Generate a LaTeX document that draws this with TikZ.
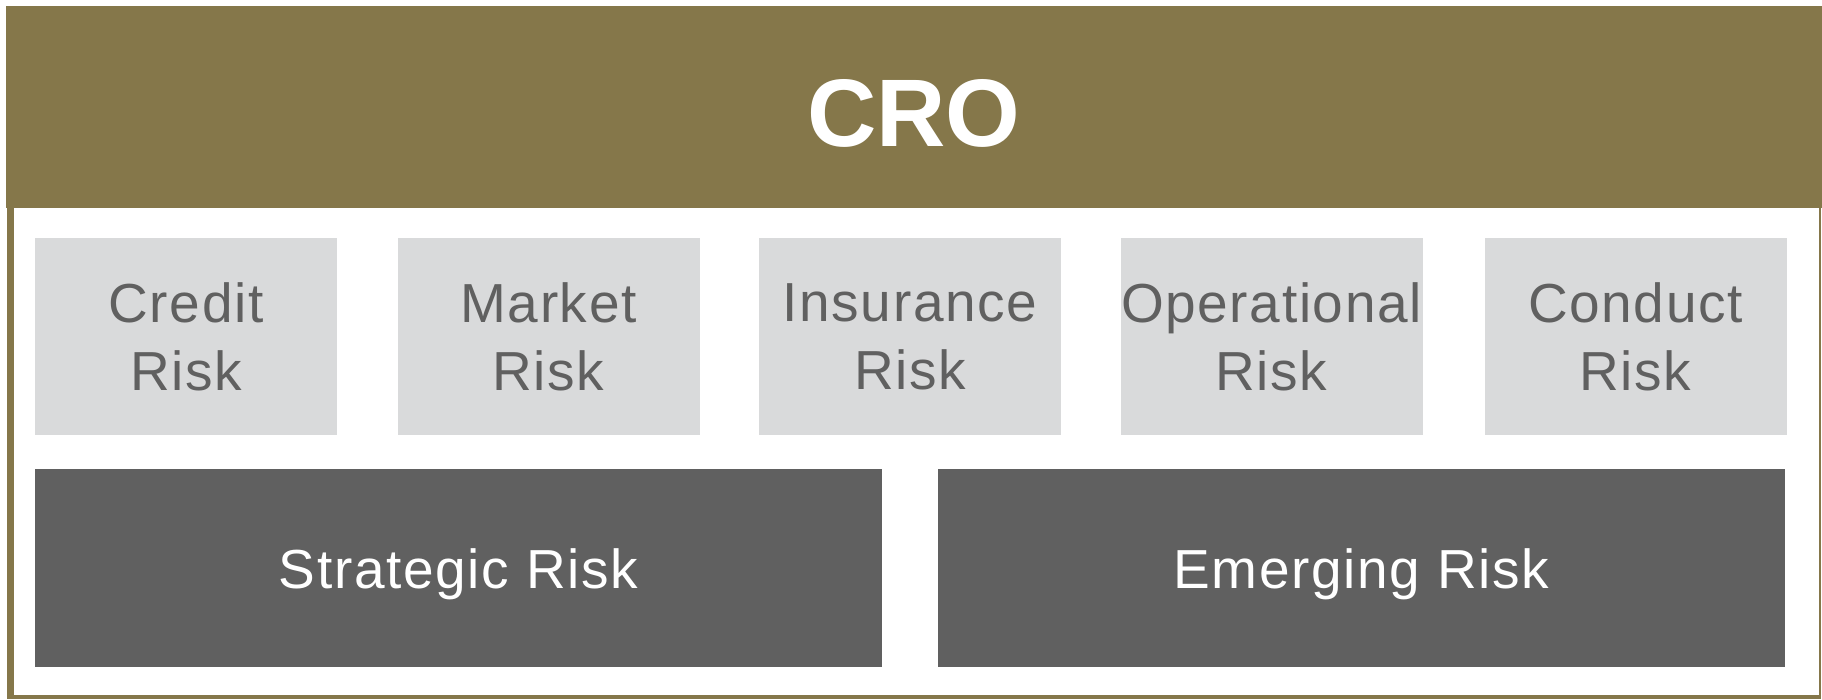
\documentclass[tikz,border=0pt]{standalone}
\usepackage{fontspec}
\setmainfont{Liberation Sans}
\newfontfamily\riskfont[LetterSpace=3]{Liberation Sans}
\usepackage{xcolor}
\definecolor{crogold}{RGB}{133,119,74}
\definecolor{riskgray}{RGB}{217,218,219}
\definecolor{riskdark}{RGB}{96,96,96}

\begin{document}
\begin{tikzpicture}[line cap=round,line join=round,x=1pt,y=-1pt,inner sep=0pt,
        crohead/.style={fill=crogold,text=white,minimum width=1816pt,minimum height=202pt,
            text height=78pt,text depth=0pt,font=\fontsize{96}{110}\selectfont\bfseries},
        riskbox/.style={fill=riskgray,text=riskdark,minimum width=302pt,minimum height=197pt,
            align=center,font=\riskfont\fontsize{55}{68}\selectfont},
        darkbox/.style={fill=riskdark,text=white,minimum width=847pt,minimum height=198pt,
            text height=40pt,text depth=0pt,font=\riskfont\fontsize{55}{66}\selectfont}]
                \useasboundingbox (0,0) rectangle (1822,699);
                % frame under the header
                \fill [color=crogold] (7,208) rectangle (1821,699);
                \fill [color=white] (14,208) rectangle (1819,695);
                \node [crohead] (cro) at (914,107) {CRO};
                % risk types
                \node [riskbox] (credit) at (186,336.5) {Credit\\Risk};
                \node [riskbox] (market) at (548.5,336.5) {Market\\Risk};
                \node [riskbox] (insurance) at (910,336.5) {Insurance\\Risk};
                \node [riskbox] (operational) at (1271.5,336.5) {Operational\\Risk};
                \node [riskbox] (conduct) at (1635.5,336.5) {Conduct\\Risk};
                \node [darkbox] (strategic) at (458.5,568) {Strategic Risk};
                \node [darkbox] (emerging) at (1361.5,568) {Emerging Risk};
\end{tikzpicture}
\end{document}
